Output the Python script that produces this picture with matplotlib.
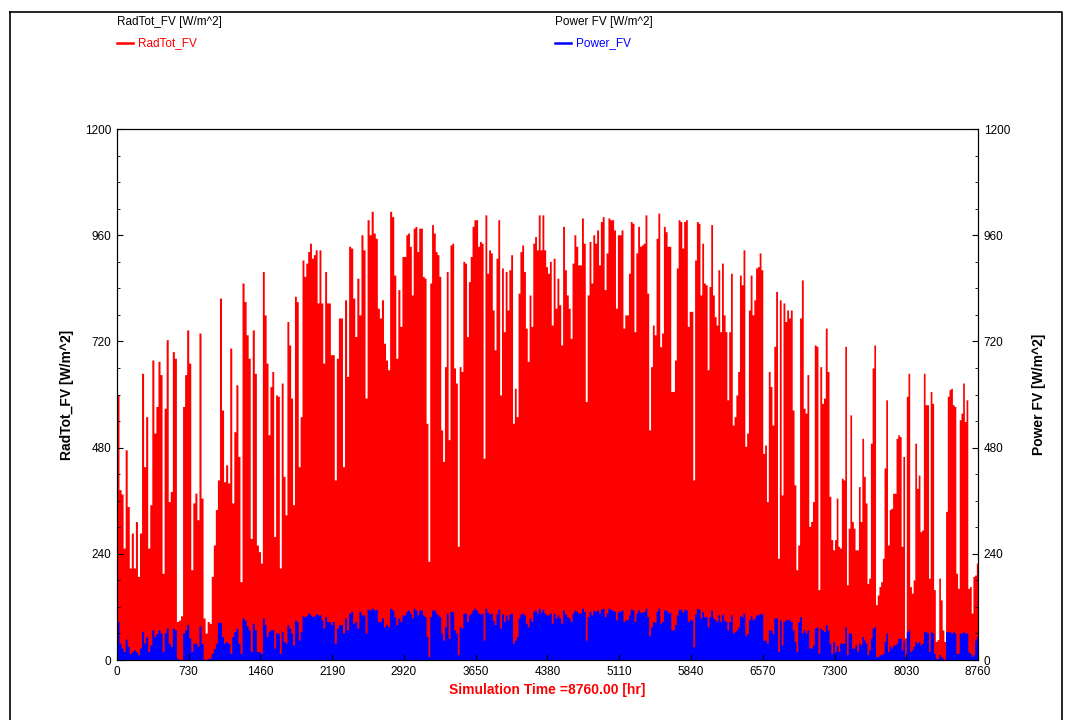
import numpy as np
import matplotlib
matplotlib.use("Agg")
import matplotlib.pyplot as plt
from matplotlib.lines import Line2D

plt.rcParams["font.family"] = ["Liberation Sans", "DejaVu Sans"]

# daily peak values, one list per 730 h period
rad_periods = [
    [600, 385, 375, 253, 475, 347, 208, 287, 208, 313, 189, 287, 648, 437, 550, 253, 351, 678, 513, 573,
     675, 645, 196, 569, 724, 358, 381, 697, 682, 87, 90, 100, 573, 645, 746],
    [671, 204, 355, 377, 317, 739, 366, 95, 61, 87, 83, 189, 260, 340, 407, 818, 565, 403, 441, 400,
     705, 355, 516, 622, 460, 177, 852, 810, 735, 682, 275, 746, 648, 260, 245],
    [219, 878, 780, 671, 509, 618, 652, 279, 599, 596, 208, 626, 415, 328, 765, 712, 592, 351, 822, 810,
     437, 550, 904, 867, 897, 923, 942, 908, 916, 927, 807, 927, 807, 671, 878, 807, 807, 690],
    [690, 407, 682, 773, 773, 437, 814, 641, 935, 931, 818, 731, 863, 780, 961, 927, 592, 995, 961, 1014,
     965, 953, 795, 773, 814, 716, 678, 656, 1014, 1002, 870, 682, 837, 754, 912],
    [912, 961, 965, 935, 825, 976, 980, 923, 976, 976, 867, 863, 535, 223, 852, 984, 965, 923, 916, 867,
     520, 449, 663, 878, 498, 938, 942, 660, 626, 257, 663, 652, 901, 897, 731, 855, 912, 980, 995],
    [995, 935, 946, 942, 456, 1006, 874, 927, 920, 791, 701, 908, 995, 599, 886, 742, 878, 791, 882, 916,
     535, 614, 550, 829, 923, 938, 878, 750, 675, 825, 754, 942, 957, 927, 1006, 927, 1006, 927, 889],
    [874, 901, 757, 908, 795, 863, 803, 712, 980, 882, 825, 795, 727, 897, 961, 935, 893, 893, 999, 942,
     584, 825, 946, 852, 961, 942, 972, 893, 991, 1002, 837, 920, 999, 995, 995, 972, 795, 961],
    [961, 972, 750, 780, 780, 874, 991, 987, 742, 920, 980, 935, 938, 942, 1006, 829, 520, 663, 757, 735,
     953, 1010, 708, 739, 980, 968, 935, 935, 607, 607, 678, 886, 995, 991, 931, 991, 995, 754, 788],
    [788, 407, 904, 991, 987, 825, 942, 852, 848, 656, 844, 984, 825, 776, 757, 882, 742, 897, 780, 742,
     588, 742, 874, 531, 550, 599, 652, 870, 848, 927, 483, 513, 791, 870, 780, 814, 886, 889, 920, 882],
    [467, 486, 358, 652, 618, 531, 709, 833, 230, 814, 373, 807, 765, 791, 773, 791, 565, 396, 204, 260,
     773, 859, 569, 558, 645, 302, 313, 358, 712, 709, 159, 663, 580, 592, 750, 652, 370, 272, 249],
    [272, 366, 257, 253, 411, 407, 709, 170, 298, 554, 313, 298, 249, 249, 392, 313, 501, 415, 355, 173,
     185, 490, 660, 712, 125, 147, 166, 177, 230, 434, 588, 260, 340, 343, 377, 377, 501, 509, 505, 257,
     460, 50],
    [596, 648, 166, 151, 181, 490, 388, 418, 290, 294, 648, 577, 577, 185, 607, 580, 159, 42, 46, 185,
     136, 68, 42, 336, 596, 611, 614, 577, 573, 196, 162, 543, 558, 626, 539, 588, 162, 166, 106, 189,
     192, 219],
]

power_periods = [
    [87, 38, 27, 19, 47, 31, 14, 19, 23, 19, 12, 27, 65, 38, 53, 19, 34, 68, 53, 60,
     68, 61, 19, 61, 72, 38, 31, 72, 68, 4, 0, 0, 61, 68, 80],
    [50, 19, 38, 38, 31, 77, 38, 0, 0, 4, 4, 15, 26, 38, 85, 85, 53, 38, 42, 38,
     15, 53, 64, 72, 38, 15, 95, 90, 77, 68, 19, 83, 68, 19, 19],
    [15, 95, 80, 53, 64, 68, 68, 27, 61, 61, 15, 64, 42, 38, 80, 72, 61, 34, 90, 87,
     45, 64, 100, 98, 100, 106, 102, 98, 100, 104, 102, 102, 91, 72, 98, 87, 87, 80],
    [87, 38, 72, 80, 80, 61, 95, 68, 106, 110, 83, 87, 72, 110, 102, 102, 61, 115, 113, 117,
     113, 115, 87, 87, 95, 75, 80, 75, 117, 113, 98, 80, 95, 87, 102],
    [102, 110, 113, 106, 95, 117, 113, 102, 113, 113, 102, 98, 53, 8, 98, 113, 113, 106, 102, 98,
     61, 45, 75, 106, 49, 110, 110, 68, 61, 12, 75, 72, 106, 106, 87, 102, 106, 113, 117],
    [113, 106, 104, 106, 45, 117, 108, 104, 106, 90, 80, 104, 115, 72, 104, 87, 102, 91, 104, 106,
     38, 45, 53, 95, 104, 106, 102, 83, 75, 95, 87, 110, 113, 106, 117, 108, 115, 106, 102],
    [102, 106, 83, 106, 95, 102, 95, 83, 113, 104, 98, 95, 87, 106, 113, 110, 106, 106, 117, 110,
     45, 98, 110, 102, 113, 110, 113, 106, 115, 117, 98, 106, 117, 115, 113, 110, 91, 110],
    [110, 113, 87, 91, 91, 102, 115, 113, 87, 106, 113, 108, 108, 110, 117, 98, 55, 75, 87, 85,
     110, 117, 83, 87, 113, 113, 108, 108, 68, 68, 80, 102, 115, 115, 108, 115, 113, 87, 91],
    [91, 30, 104, 117, 115, 95, 110, 98, 98, 75, 98, 113, 95, 91, 87, 102, 87, 104, 91, 87,
     68, 87, 102, 61, 64, 68, 75, 100, 98, 106, 55, 60, 91, 100, 91, 95, 102, 102, 106, 104],
    [45, 45, 38, 68, 68, 60, 95, 95, 19, 91, 34, 87, 91, 91, 91, 87, 68, 42, 19, 87,
     98, 61, 68, 61, 68, 27, 27, 34, 72, 75, 15, 72, 68, 64, 80, 68, 38, 15, 42],
    [19, 34, 19, 38, 38, 38, 75, 12, 61, 61, 27, 27, 34, 19, 38, 34, 53, 45, 38, 12,
     23, 49, 72, 75, 8, 8, 12, 12, 15, 42, 61, 19, 31, 27, 34, 34, 38, 49, 49, 23,
     45, 8],
    [64, 68, 19, 23, 31, 42, 38, 42, 34, 38, 64, 64, 61, 19, 64, 61, 15, 4, 4, 12,
     8, 4, 0, 64, 64, 64, 61, 64, 61, 15, 15, 61, 61, 64, 61, 61, 19, 15, 8, 12,
     45, 53],
]

period_len = 730
x_ticks = np.arange(0, 8761, 730)
y_ticks = np.arange(0, 1201, 240)


def period_series(periods):
    hours, vals = [], []
    for k, p in enumerate(periods):
        n = len(p)
        hours.extend(k * period_len + np.arange(n) * period_len / n)
        vals.extend(p)
    hours.append(len(periods) * period_len)
    vals.append(periods[-1][-1])
    return np.array(hours), np.array(vals, dtype=float)


h_rad, rad = period_series(rad_periods)
h_pow, pw = period_series(power_periods)

fig = plt.figure(figsize=(10.73, 7.2), dpi=100)
ax = fig.add_axes([0.109, 0.0833, 0.8025, 0.7375])

ax.fill_between(h_rad, rad, step="post", color="#ff0000", lw=0)
ax.fill_between(h_pow, pw, step="post", color="#0000ff", lw=0)

ax.set_xlim(0, 8760)
ax.set_ylim(0, 1200)
ax.set_xticks(x_ticks)
ax.set_yticks(y_ticks)
ax.set_yticks(np.arange(0, 1201, 60), minor=True)
ax.set_ylabel("RadTot_FV [W/m^2]", fontsize=10, fontweight="bold", labelpad=8)
ax.set_xlabel("Simulation Time =8760.00 [hr]", fontsize=10, fontweight="bold",
              color="#ff0000", labelpad=4)

ax2 = ax.twinx()
ax2.set_ylim(0, 1200)
ax2.set_yticks(y_ticks)
ax2.set_yticks(np.arange(0, 1201, 60), minor=True)
ax2.set_ylabel("Power FV [W/m^2]", fontsize=10, fontweight="bold", labelpad=16)

for a in (ax, ax2):
    a.tick_params(axis="both", which="both", direction="in", labelsize=8.5, length=4, pad=4)
    a.tick_params(axis="y", which="minor", length=2)
    for s in a.spines.values():
        s.set_linewidth(0.8)

# header legends
fig.text(117 / 1073, 1 - 22 / 720, "RadTot_FV [W/m^2]", fontsize=8.5, va="center")
fig.text(555 / 1073, 1 - 22 / 720, "Power FV [W/m^2]", fontsize=8.5, va="center")
fig.add_artist(Line2D([117 / 1073, 133 / 1073], [1 - 43 / 720] * 2, color="#ff0000", lw=1.8))
fig.text(138 / 1073, 1 - 43 / 720, "RadTot_FV", fontsize=8.5, color="#ff0000", va="center")
fig.add_artist(Line2D([555 / 1073, 571 / 1073], [1 - 43 / 720] * 2, color="#0000ff", lw=1.8))
fig.text(576 / 1073, 1 - 43 / 720, "Power_FV", fontsize=8.5, color="#0000ff", va="center")

# outer frame
fig.add_artist(Line2D([10 / 1073, 1062 / 1073, 1062 / 1073], [1 - 12 / 720, 1 - 12 / 720, 0],
                      color="black", lw=1.2))
fig.add_artist(Line2D([10 / 1073, 10 / 1073], [1 - 12 / 720, 0], color="black", lw=1.2))

fig.savefig("out.png", dpi=100)
